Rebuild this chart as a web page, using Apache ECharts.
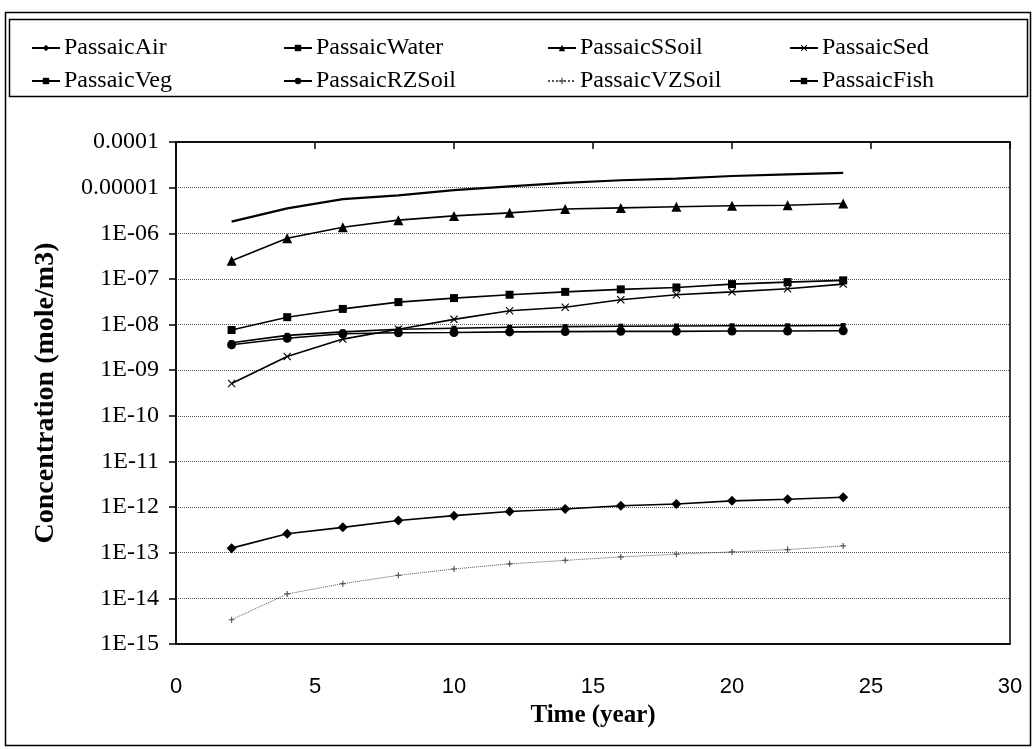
<!DOCTYPE html>
<html><head><meta charset="utf-8">
<script src="https://cdn.jsdelivr.net/npm/echarts@6/dist/echarts.min.js"></script>
<style>html,body{margin:0;padding:0;background:#fff}#c{width:1036px;height:749px}</style>
</head><body><div id="c"></div>
<script>
const years = [2,4,6,8,10,12,14,16,18,20,22,24];
const passaicAir   = [1.26e-13,2.6e-13,3.6e-13,5.1e-13,6.5e-13,8.0e-13,9.1e-13,1.07e-12,1.17e-12,1.37e-12,1.49e-12,1.64e-12];
const passaicWater = [7.6e-9,1.45e-8,2.2e-8,3.1e-8,3.8e-8,4.5e-8,5.2e-8,5.9e-8,6.5e-8,7.7e-8,8.5e-8,9.3e-8];
const passaicSSoil = [2.5e-7,7.8e-7,1.35e-6,1.94e-6,2.4e-6,2.8e-6,3.4e-6,3.6e-6,3.8e-6,4.0e-6,4.1e-6,4.5e-6];
const passaicSed   = [5.1e-10,2.0e-9,4.8e-9,7.9e-9,1.3e-8,2.0e-8,2.4e-8,3.5e-8,4.5e-8,5.2e-8,6.1e-8,7.7e-8];
const passaicVeg   = [4.0e-9,5.8e-9,6.9e-9,7.9e-9,8.3e-9,8.7e-9,9.0e-9,9.2e-9,9.3e-9,9.4e-9,9.4e-9,9.5e-9];
const passaicRZSoil= [3.6e-9,5.0e-9,6.3e-9,6.6e-9,6.7e-9,6.9e-9,7.0e-9,7.1e-9,7.1e-9,7.2e-9,7.2e-9,7.3e-9];
const passaicVZSoil= [3.4e-15,1.25e-14,2.1e-14,3.2e-14,4.4e-14,5.7e-14,6.8e-14,8.1e-14,9.3e-14,1.04e-13,1.17e-13,1.41e-13];
const passaicFish  = [1.8e-6,3.5e-6,5.6e-6,6.8e-6,8.8e-6,1.07e-5,1.27e-5,1.45e-5,1.58e-5,1.8e-5,1.95e-5,2.1e-5];
const xTicks = [0,5,10,15,20,25,30];

const SERIF = '"Liberation Serif","Times New Roman",serif';
const pair = a => years.map((x,i)=>[x,a[i]]);
const X_PATH = 'path://M0,1L1,0L5,4L9,0L10,1L6,5L10,9L9,10L5,6L1,10L0,9L4,5Z';
const PLUS_PATH = 'path://M4,0H6V4H10V6H6V10H4V6H0V4H4Z';

function mk(name, data, symbol, size, opts) {
  opts = opts || {};
  return {
    name, type:'line', data: pair(data), symbol, symbolSize:size,
    showSymbol: opts.showSymbol !== false,
    lineStyle:{color: opts.color||'#000', width: opts.width||1.6, type: opts.type||'solid'},
    itemStyle:{color: opts.color||'#000'},
    emphasis:{disabled:true}, animation:false, z: opts.z||2
  };
}

const series = [
  mk('PassaicAir', passaicAir, 'diamond', 10),
  mk('PassaicWater', passaicWater, 'rect', 8),
  mk('PassaicSSoil', passaicSSoil, 'triangle', 10),
  mk('PassaicSed', passaicSed, X_PATH, 8),
  mk('PassaicVeg', passaicVeg, 'rect', 5),
  mk('PassaicRZSoil', passaicRZSoil, 'circle', 9),
  mk('PassaicVZSoil', passaicVZSoil, PLUS_PATH, 6, {color:'#555', width:1, type:'dotted'}),
  mk('PassaicFish', passaicFish, 'rect', [5,2], {width:2.2, showSymbol:false})
];

function legendCol(left, names) {
  return {
    orient:'vertical', left, top:31, itemGap:9, itemWidth:28, itemHeight:8,
    data: names, selectedMode:false,
    textStyle:{fontFamily:SERIF, fontSize:24, color:'#000', padding:[0,0,0,-1]}
  };
}

const fmtY = v => {
  const e = Math.round(Math.log10(v));
  if (e >= -5) return (Math.pow(10,e)).toFixed(-e);
  return '1E-' + String(-e).padStart(2,'0');
};

const chart = echarts.init(document.getElementById('c'));
chart.setOption({
  backgroundColor:'#fff',
  animation:false,
  legend:[
    legendCol(26, ['PassaicAir','PassaicVeg']),
    legendCol(278, ['PassaicWater','PassaicRZSoil']),
    legendCol(542, ['PassaicSSoil','PassaicVZSoil']),
    legendCol(784, ['PassaicSed','PassaicFish'])
  ],
  graphic:[
    {type:'rect', shape:{x:5.5,y:12.5,width:1025,height:733}, style:{fill:'none', stroke:'#000', lineWidth:1.5}, silent:true},
    {type:'rect', shape:{x:9.5,y:19.5,width:1018,height:77}, style:{fill:'none', stroke:'#000', lineWidth:1.5}, silent:true}
  ],
  grid:{left:176, right:26, top:142, bottom:105, show:true, borderColor:'#000', borderWidth:1.5, containLabel:false},
  xAxis:[
    {type:'value', min:0, max:30, interval:5, position:'bottom',
     axisLine:{show:true, lineStyle:{color:'#000', width:1.5}},
     axisTick:{show:false}, splitLine:{show:false},
     axisLabel:{fontFamily:'"Liberation Sans",Arial,sans-serif', fontSize:22, color:'#000', margin:32},
     name:'Time (year)', nameLocation:'middle', nameGap:55,
     nameTextStyle:{fontFamily:SERIF, fontWeight:'bold', fontSize:25, color:'#000'}},
    {type:'value', min:0, max:30, interval:5, position:'top',
     axisLine:{show:true, lineStyle:{color:'#000', width:1.5}},
     axisTick:{show:true, inside:true, length:7, lineStyle:{color:'#000', width:1.5}},
     axisLabel:{show:false}, splitLine:{show:false}}
  ],
  yAxis:{
    type:'log', logBase:10, min:1e-15, max:1e-4, interval:1,
    axisLine:{show:true, onZero:false, lineStyle:{color:'#000', width:1.5}},
    axisTick:{show:true, length:7, lineStyle:{color:'#000', width:1.5}},
    splitLine:{show:true, lineStyle:{color:'#555', type:'dotted', width:1}},
    minorTick:{show:false},
    axisLabel:{fontFamily:SERIF, fontSize:24, color:'#000', margin:17, formatter: fmtY},
    name:'Concentration (mole/m3)', nameLocation:'middle', nameGap:116,
    nameTextStyle:{fontFamily:SERIF, fontWeight:'bold', fontSize:28, color:'#000'}
  },
  series
});
</script></body></html>
